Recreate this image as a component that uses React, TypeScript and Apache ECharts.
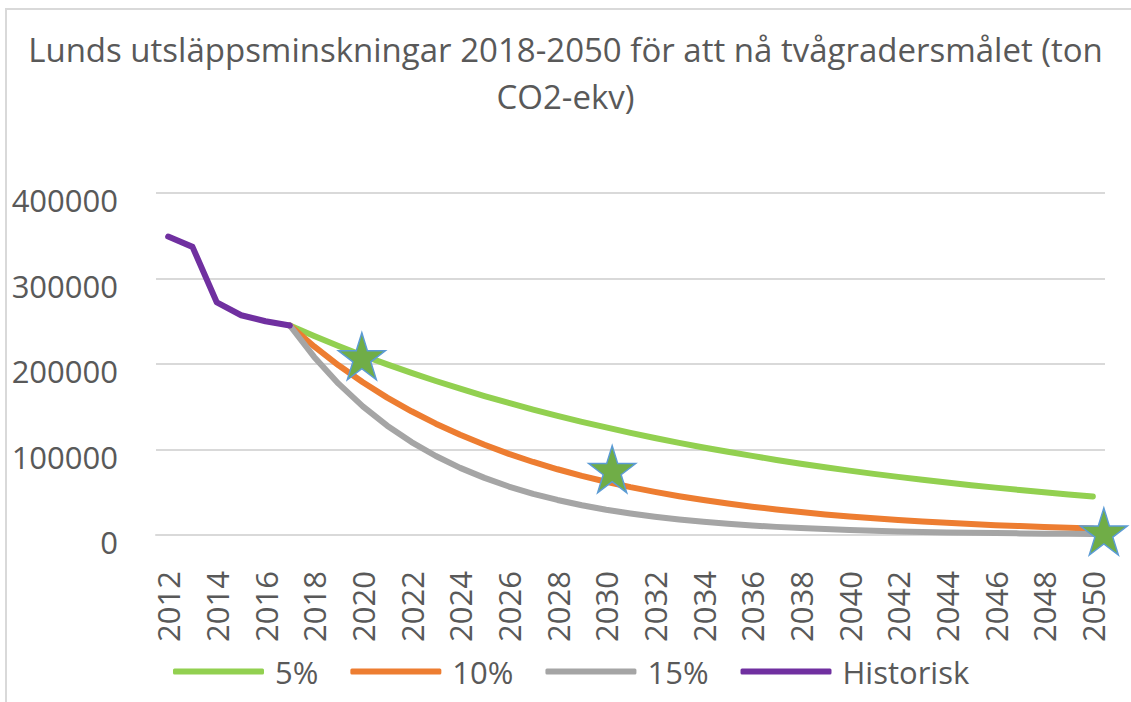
import React, { useEffect, useRef } from "react";
import * as echarts from "echarts";

const titleLines = [
  "Lunds utsläppsminskningar 2018-2050 för att nå tvågradersmålet (ton",
  "CO2-ekv)",
];

const years = [
  "2012", "2013", "2014", "2015", "2016", "2017", "2018", "2019", "2020", "2021",
  "2022", "2023", "2024", "2025", "2026", "2027", "2028", "2029", "2030", "2031",
  "2032", "2033", "2034", "2035", "2036", "2037", "2038", "2039", "2040", "2041",
  "2042", "2043", "2044", "2045", "2046", "2047", "2048", "2049", "2050",
];

const yTicks = { min: 0, max: 400000, interval: 100000 };

const n = null;

const historisk = [349000, 337000, 272000, 257000, 250000, 245000];

const pct5 = [
  n, n, n, n, n,
  245000, 232800, 221100, 210000, 199500, 189600, 180100, 171100, 162500, 154400,
  146700, 139400, 132400, 125800, 119500, 113500, 107800, 102400, 97300, 92500,
  87800, 83400, 79300, 75300, 71500, 68000, 64600, 61300, 58300, 55400,
  52600, 50000, 47500, 45100,
];

const pct10 = [
  n, n, n, n, n,
  245000, 220500, 198500, 178600, 160700, 144700, 130200, 117200, 105500, 94900,
  85400, 76900, 69200, 62300, 56000, 50400, 45400, 40900, 36800, 33100,
  29800, 26800, 24100, 21700, 19500, 17600, 15800, 14200, 12800, 11500,
  10400, 9400, 8400, 7600,
];

const pct15 = [
  n, n, n, n, n,
  245000, 208300, 177000, 150500, 127900, 108700, 92400, 78500, 66800, 56700,
  48200, 41000, 34800, 29600, 25200, 21400, 18200, 15500, 13100, 11200,
  9500, 8100, 6900, 5800, 5000, 4200, 3600, 3000, 2600, 2200,
  1900, 1600, 1400, 1200,
];

const starYears = ["2020", "2030", "2050"];
const starValues = [209000, 77000, 4000];

const seriesNames = ["5%", "10%", "15%", "Historisk"];
const seriesColors = ["#92D050", "#ED7D31", "#A5A5A5", "#7030A0"];

const STAR =
  "path://M50 0 L61.23 34.55 L97.55 34.55 L68.17 55.9 L79.39 90.45 L50 69.1 L20.61 90.45 L31.83 55.9 L2.45 34.55 L38.77 34.55 Z";

const FONT = "'Open Sans', sans-serif";
const TXT = "#595959";

export default function App() {
  const ref = useRef<HTMLDivElement>(null);

  useEffect(() => {
    if (!ref.current) return;
    const chart = echarts.init(ref.current, null, { renderer: "svg" });

    const seriesData = [pct5, pct10, pct15, historisk];
    const starOffsets = [[-1, 0], [6, 0], [11, 0]];

    const lineSeries = seriesNames.map((name, i) => ({
      name,
      type: "line",
      data: seriesData[i],
      symbol: "none",
      smooth: false,
      connectNulls: false,
      color: seriesColors[i],
      lineStyle: { color: seriesColors[i], width: 6, cap: "round", join: "round" },
      z: 2 + i,
    }));

    const starSeries = {
      name: "stars",
      type: "line",
      data: starYears.map((y, i) => ({
        value: [y, starValues[i]],
        symbolOffset: starOffsets[i],
      })),
      lineStyle: { opacity: 0 },
      symbol: STAR,
      symbolSize: [47, 47],
      itemStyle: { color: "#70AD47", borderColor: "#5B9BD5", borderWidth: 1.5 },
      z: 10,
    };

    chart.setOption({
      animation: false,
      backgroundColor: "#ffffff",
      title: {
        text: titleLines.join("\n"),
        left: "center",
        top: 21,
        textStyle: {
          fontFamily: FONT,
          fontSize: 33,
          fontWeight: "normal",
          color: TXT,
          lineHeight: 47,
        },
      },
      legend: {
        data: seriesNames.map((name) => ({ name, icon: "roundRect" })),
        left: 168,
        top: 651,
        itemWidth: 91,
        itemHeight: 6,
        itemGap: 32,
        textStyle: { fontFamily: FONT, fontSize: 31, color: TXT, padding: [0, 0, 0, 6] },
      },
      grid: { left: 156, right: 26, top: 193, bottom: 167, containLabel: false },
      xAxis: {
        type: "category",
        data: years,
        boundaryGap: true,
        axisLine: { show: true, lineStyle: { color: "#D9D9D9", width: 2 } },
        axisTick: { show: false },
        axisLabel: {
          interval: 1,
          rotate: 90,
          margin: 36,
          fontFamily: FONT,
          fontSize: 31,
          color: TXT,
        },
        splitLine: { show: false },
      },
      yAxis: {
        type: "value",
        min: yTicks.min,
        max: yTicks.max,
        interval: yTicks.interval,
        axisLine: { show: false },
        axisTick: { show: false },
        axisLabel: {
          margin: 38,
          fontFamily: FONT,
          fontSize: 31,
          color: TXT,
          verticalAlign: "top",
          lineHeight: 14,
          formatter: (v: number) => String(v),
        },
        splitLine: { lineStyle: { color: "#D9D9D9", width: 2 } },
      },
      graphic: [
        {
          type: "polyline",
          shape: { points: [[6, 702], [6, 9], [1131, 9]] },
          style: { stroke: "#D9D9D9", lineWidth: 2, fill: "none" },
          silent: true,
        },
      ],
      series: [...lineSeries, starSeries],
    });

    return () => chart.dispose();
  }, []);

  return (
    <div
      ref={ref}
      style={{ position: "absolute", left: 0, top: 0, width: 1131, height: 702 }}
    />
  );
}
